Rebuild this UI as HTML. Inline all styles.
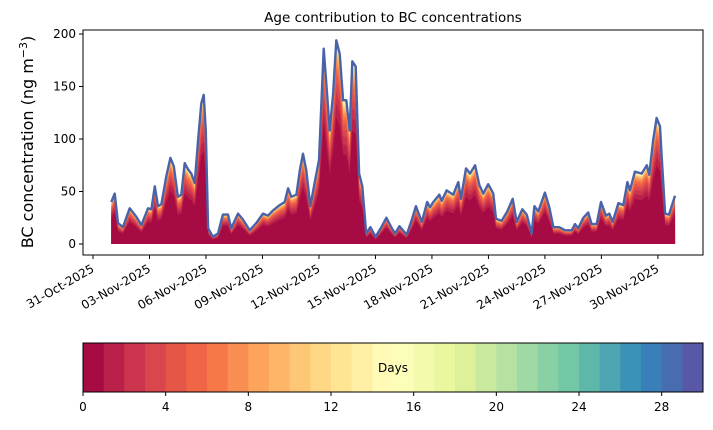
<!DOCTYPE html>
<html><head><meta charset="utf-8"><style>
body{margin:0;background:#fff;font-family:"Liberation Sans","DejaVu Sans",sans-serif;}
svg text{font-family:"DejaVu Sans","Liberation Sans",sans-serif;}
</style></head><body>
<svg id="c" width="713" height="425" xmlns="http://www.w3.org/2000/svg"></svg>
<script>
// days since 31-Oct-2025 00:00
const days=[0.97,1.15,1.33,1.59,1.95,2.30,2.57,2.92,3.10,3.28,3.45,3.63,3.89,4.11,4.29,4.51,4.69,4.87,5.05,5.22,5.40,5.58,5.75,5.88,5.99,6.11,6.37,6.64,6.90,7.17,7.34,7.70,7.97,8.32,8.67,9.03,9.29,9.56,9.91,10.18,10.36,10.53,10.80,10.98,11.15,11.33,11.54,11.77,12.00,12.25,12.39,12.57,12.75,12.92,13.10,13.28,13.45,13.63,13.77,13.95,14.13,14.30,14.51,14.73,15.01,15.31,15.58,15.84,16.04,16.27,16.66,16.93,17.15,17.46,17.75,17.90,18.07,18.39,18.52,18.78,19.13,19.40,19.54,19.81,20.02,20.29,20.52,20.73,20.99,21.26,21.40,21.70,22.00,22.29,22.50,22.80,23.03,23.30,23.44,23.65,24.00,24.23,24.45,24.76,25.07,25.42,25.60,25.77,26.04,26.30,26.48,26.75,26.98,27.24,27.42,27.60,27.90,28.16,28.38,28.52,28.78,29.14,29.41,29.54,29.75,29.93,30.11,30.20,30.38,30.59,30.91];
const totalBC=[40,48,20,16,34,26,18,34,33,55,36,38,64,82,74,45,47,77,71,67,58,99,134,142,108,15,7,10,28,28,15,29,23,13,20,29,27,32,37,40,53,45,47,70,86,70,36,58,80,186,153,108,143,194,181,137,137,108,174,169,67,55,10,16,7,16,25,16,10,17,9,23,36,21,40,35,40,47,41,51,47,59,43,72,67,75,56,48,57,48,24,22,31,43,21,33,28,10,36,31,49,35,16,16,13,13,19,15,25,30,19,19,40,27,29,21,39,37,59,51,69,67,75,66,99,120,112,83,29,28,46];
const yTicks=[0,50,100,150,200];
const xTickLabels=["31-Oct-2025","03-Nov-2025","06-Nov-2025","09-Nov-2025","12-Nov-2025","15-Nov-2025","18-Nov-2025","21-Nov-2025","24-Nov-2025","27-Nov-2025","30-Nov-2025"];
const xTickDays=[0,3,6,9,12,15,18,21,24,27,30];
const cbTicks=[0,4,8,12,16,20,24,28];
const nAges=30;

const NS="http://www.w3.org/2000/svg";
const svg=document.getElementById('c');
function mk(t,a,p){const e=document.createElementNS(NS,t);for(const k in a)e.setAttribute(k,a[k]);(p||svg).appendChild(e);return e;}
const L=83,R=703,T=30,B=255;
const X=d=>93+d*18.83;
const Y=v=>244-v*1.05;
const anchors=["#9e0142","#d53e4f","#f46d43","#fdae61","#fee08b","#ffffbf","#e6f598","#abdda4","#66c2a5","#3288bd","#5e4fa2"];
function hex(h){return [1,3,5].map(i=>parseInt(h.substr(i,2),16));}
function spectral(t){const s=t*10,i=Math.min(9,Math.floor(s)),f=s-i;const a=hex(anchors[i]),b=hex(anchors[i+1]);return 'rgb('+a.map((v,j)=>Math.round(v+(b[j]-v)*f)).join(',')+')';}

// title
let e=mk('text',{x:393,y:22,'text-anchor':'middle','font-size':13.5});e.textContent="Age contribution to BC concentrations";



// stacked layers
const g=mk('g',{});


for(let k=nAges-1;k>=0;k--){
  const frac=k>=nAges-1?1:1-0.38*Math.exp(-k/5);
  let d='M'+X(days[0])+','+Y(0);
  days.forEach((dd,i)=>{d+='L'+X(dd).toFixed(1)+','+Y(totalBC[i]*frac).toFixed(1);});
  d+='L'+X(days[days.length-1])+','+Y(0)+'Z';
  const p=mk('path',{d:d,fill:spectral((k+0.5)/nAges)},g);
  
  
}
let ld='';days.forEach((dd,i)=>{ld+=(i?'L':'M')+X(dd).toFixed(1)+','+Y(totalBC[i]).toFixed(1);});
e=mk('path',{d:ld,fill:'none',stroke:'#4a62a8','stroke-width':2.4,'stroke-linejoin':'round'});



// frame
e=mk('rect',{x:L,y:T,width:R-L,height:B-T,fill:'none',stroke:'#000','stroke-width':1});


yTicks.forEach(v=>{
  mk('line',{x1:L-4,x2:L,y1:Y(v),y2:Y(v),stroke:'#000'});
  const t=mk('text',{x:L-7,y:Y(v)+4,'text-anchor':'end','font-size':12});t.textContent=v;
  
  
});
xTickDays.forEach((d,i)=>{
  const x=X(d);
  mk('line',{x1:x,x2:x,y1:B,y2:B+4,stroke:'#000'});
  const t=mk('text',{x:x+2,y:B+16,'text-anchor':'end','font-size':12,transform:'rotate(-30 '+(x+2)+' '+(B+16)+')'});t.textContent=xTickLabels[i];
  
  
});
e=mk('text',{x:33,y:142,'text-anchor':'middle','font-size':16,transform:'rotate(-90 33 142)'});
e.innerHTML='BC concentration (ng m<tspan dy="-6" font-size="11">−3</tspan><tspan dy="6">)</tspan>';



// colorbar
const cb=mk('g',{});


const cw=(R-L)/nAges;
for(let k=0;k<nAges;k++){mk('rect',{x:L+k*cw,y:343,width:cw+0.5,height:49,fill:spectral((k+0.5)/nAges)},cb);}
mk('rect',{x:L,y:343,width:R-L,height:49,fill:'none',stroke:'#000'},cb);
cbTicks.forEach(v=>{
  const x=L+v*cw;
  mk('line',{x1:x,x2:x,y1:392,y2:396,stroke:'#000'},cb);
  const t=mk('text',{x:x,y:411,'text-anchor':'middle','font-size':12},cb);t.textContent=v;
  
  
});
e=mk('text',{x:393,y:372,'text-anchor':'middle','font-size':12});e.textContent='Days';


</script>
</body></html>
